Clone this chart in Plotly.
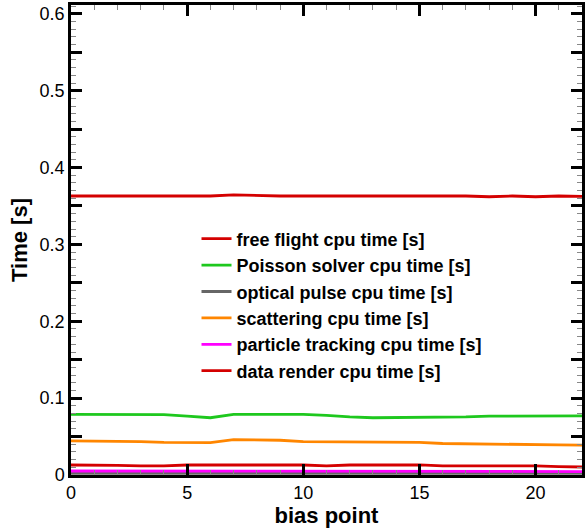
import plotly.graph_objects as go

bias = list(range(23))

free_flight = [0.363, 0.363, 0.363, 0.363, 0.363, 0.363, 0.363, 0.3645, 0.3635, 0.363, 0.363, 0.363,
               0.363, 0.363, 0.363, 0.363, 0.363, 0.363, 0.362, 0.363, 0.362, 0.363, 0.3625]
poisson = [0.079, 0.079, 0.079, 0.079, 0.0785, 0.0765, 0.0745, 0.079, 0.079, 0.079, 0.079, 0.0775,
           0.0755, 0.0745, 0.0748, 0.0748, 0.0748, 0.0755, 0.0765, 0.0768, 0.0768, 0.0768, 0.0768]
optical = [0.002] * 23
scattering = [0.0445, 0.0443, 0.0442, 0.0435, 0.0425, 0.0423, 0.0422, 0.0460, 0.0455, 0.0452, 0.0433, 0.0432,
              0.0432, 0.0432, 0.0430, 0.0425, 0.0410, 0.0408, 0.0407, 0.0400, 0.0398, 0.0392, 0.0388]
tracking = [0.0052, 0.0052, 0.0052, 0.0052, 0.0052, 0.0052, 0.0052, 0.0052, 0.0052, 0.0052, 0.0052, 0.0052,
            0.0052, 0.0052, 0.0052, 0.0052, 0.0050, 0.0046, 0.0045, 0.0045, 0.0045, 0.0045, 0.0045]
render = [0.013, 0.013, 0.0125, 0.0118, 0.0118, 0.013, 0.013, 0.013, 0.013, 0.013, 0.013, 0.0118,
          0.013, 0.013, 0.013, 0.0132, 0.012, 0.012, 0.012, 0.012, 0.012, 0.011, 0.0104]

names = ["free flight cpu time [s]", "Poisson solver cpu time [s]", "optical pulse cpu time [s]",
         "scattering cpu time [s]", "particle tracking cpu time [s]", "data render cpu time [s]"]
series = [free_flight, poisson, optical, scattering, tracking, render]
colors = ["#d40000", "#1ec81e", "#666666", "#ff8600", "#ff00ff", "#d40000"]

y_ticks = [round(i * 0.05, 2) for i in range(13)]
y_text = [("0" if v == 0 else f"{v:.1f}") if i % 2 == 0 else "" for i, v in enumerate(y_ticks)]

fig = go.Figure()
for name, ys, c in zip(names, series, colors):
    fig.add_trace(go.Scatter(x=bias, y=ys, name=name, mode="lines",
                             line=dict(color=c, width=2.8)))

font_family = "Liberation Sans, Arial, sans-serif"
fig.update_layout(
    width=587, height=529,
    margin=dict(l=71, r=2, t=3, b=54),
    plot_bgcolor="white", paper_bgcolor="white",
    font=dict(family=font_family, color="black", size=18),
    showlegend=True,
    legend=dict(x=0.2456, y=0.5415, xanchor="left", yanchor="top",
                bgcolor="rgba(0,0,0,0)",
                font=dict(size=18, family=font_family, weight="bold", color="black"),
                tracegroupgap=0),
    xaxis=dict(range=[0, 22], tickmode="linear", tick0=0, dtick=5,
               showline=True, linecolor="black", linewidth=2.5, mirror="allticks",
               ticks="inside", ticklen=11, tickwidth=2.5, tickcolor="black",
               minor=dict(dtick=1, tick0=0, ticks="inside", ticklen=5, tickwidth=1, tickcolor="#888888"),
               showgrid=False, zeroline=False,
               tickfont=dict(size=18),
               title=dict(text="bias point", font=dict(size=22, weight="bold"), standoff=0)),
    yaxis=dict(range=[0, 0.6115], tickmode="array", tickvals=y_ticks, ticktext=y_text,
               showline=True, linecolor="black", linewidth=2.5, mirror="allticks",
               ticks="inside", ticklen=11, tickwidth=2.5, tickcolor="black",
               minor=dict(dtick=0.01, tick0=0, ticks="inside", ticklen=5, tickwidth=1, tickcolor="#888888"),
               showgrid=False, zeroline=False,
               tickfont=dict(size=18),
               title=dict(text="Time [s]", font=dict(size=22, weight="bold"), standoff=6)),
)

fig.write_html("out.html")
